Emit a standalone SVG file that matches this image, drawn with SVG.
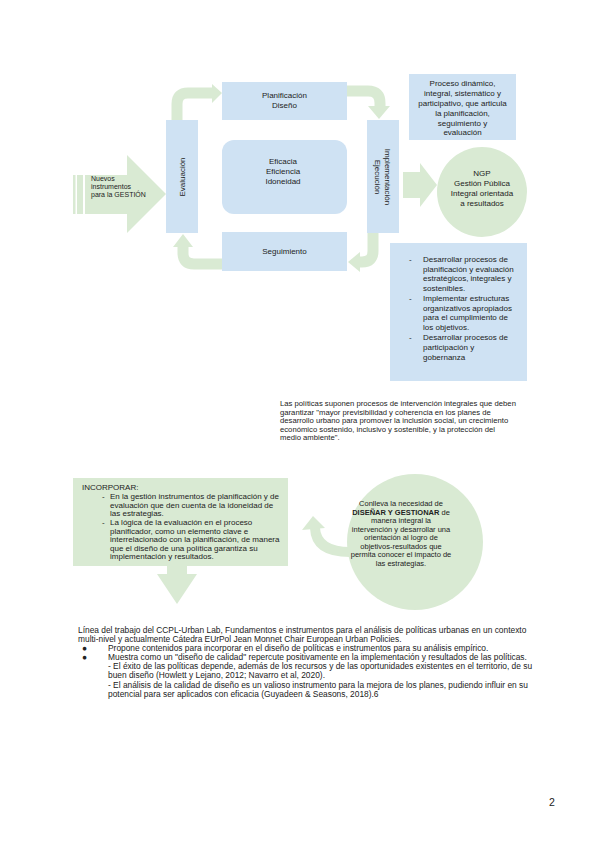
<svg xmlns="http://www.w3.org/2000/svg" width="600" height="848" viewBox="0 0 600 848">
<style>
text{font-family:"Liberation Sans",Arial,sans-serif;fill:#222;font-size:8px}
.c{text-anchor:middle}
.p{font-size:7.7px}
.q{font-size:8.4px}
.blue{fill:#cfe2f3}
.green{fill:#d9ead3}
.gs{stroke:#d9ead3;fill:none;stroke-width:11}
</style>
<rect width="600" height="848" fill="#fff"/>
<g id="connectors">
<path class="gs" d="M177,121 V104 Q177,93 188,93 H214"/>
<polygon class="green" points="212,84 222,93 212,103"/>
<path class="gs" d="M346,91 H368 Q380,91 380,103 V108"/>
<polygon class="green" points="368,106 390,106 379,119"/>
<path class="gs" d="M373,233 V251 Q373,262 362,262 H358"/>
<polygon class="green" points="360,252 348,262 360,272"/>
<path class="gs" d="M222,264 H194 Q183,264 183,253 V246"/>
<polygon class="green" points="173,247 193,247 183,234"/>
<path class="green" d="M403,172 H420 V163 L437,185 L420,207 V198 H403 Z"/>
</g>
<g id="nuevos">
<rect class="green" x="73" y="175" width="2.5" height="39"/>
<rect class="green" x="77" y="175" width="6" height="39"/>
<path class="green" d="M85,175 H127 V155 L166,194 L127,233 V214 H85 Z"/>
<text x="91" y="181" style="font-size:7px">Nuevos</text>
<text x="91" y="189" style="font-size:7px">instrumentos</text>
<text x="91" y="197" style="font-size:7px">para la GESTIÓN</text>
</g>
<g id="evaluacion">
<rect class="blue" x="166" y="120" width="32" height="113"/>
<text class="c" transform="translate(185,177) rotate(-90)">Evaluación</text>
</g>
<g id="planificacion">
<rect class="blue" x="222" y="82" width="125" height="38"/>
<text class="c" x="284.5" y="98">Planificación</text>
<text class="c" x="284.5" y="108">Diseño</text>
</g>
<g id="eficacia">
<rect class="blue" x="222" y="140" width="125" height="74" rx="12"/>
<text class="c" x="283" y="164">Eficacia</text>
<text class="c" x="283" y="174">Eficiencia</text>
<text class="c" x="283" y="184">Idoneidad</text>
</g>
<g id="seguimiento">
<rect class="blue" x="222" y="232" width="125" height="39"/>
<text class="c" x="284.5" y="254">Seguimiento</text>
</g>
<g id="implementacion">
<rect class="blue" x="367" y="120" width="32" height="113"/>
<text class="c" transform="translate(384.5,177) rotate(90)">Implementación</text>
<text class="c" transform="translate(374.5,177) rotate(90)">Ejecución</text>
</g>
<g id="proceso">
<rect class="blue" x="409" y="74" width="107" height="66"/>
<text class="c" x="462.5" y="86">Proceso dinámico,</text>
<text class="c" x="462.5" y="96">integral, sistemático y</text>
<text class="c" x="462.5" y="106">participativo, que articula</text>
<text class="c" x="462.5" y="116">la planificación,</text>
<text class="c" x="462.5" y="126">seguimiento y</text>
<text class="c" x="462.5" y="135">evaluación</text>
</g>
<g id="ngp">
<circle class="green" cx="482" cy="192" r="45"/>
<text class="c" x="482" y="176">NGP</text>
<text class="c" x="482" y="186">Gestión Pública</text>
<text class="c" x="482" y="196">Integral orientada</text>
<text class="c" x="482" y="206">a resultados</text>
</g>
<g id="desarrollar">
<rect class="blue" x="390" y="243" width="137" height="138"/>
<text x="409" y="262">-</text>
<text x="423" y="262">Desarrollar procesos de</text>
<text x="423" y="272">planificación y evaluación</text>
<text x="423" y="281">estratégicos, integrales y</text>
<text x="423" y="291">sostenibles.</text>
<text x="409" y="301">-</text>
<text x="423" y="301">Implementar estructuras</text>
<text x="423" y="311">organizativos apropiados</text>
<text x="423" y="320">para el cumplimiento de</text>
<text x="423" y="330">los objetivos.</text>
<text x="409" y="340">-</text>
<text x="423" y="340">Desarrollar procesos de</text>
<text x="423" y="350">participación y</text>
<text x="423" y="360">gobernanza</text>
</g>
<g id="politicas">
<text class="p" x="280" y="406">Las políticas suponen procesos de intervención integrales que deben</text>
<text class="p" x="280" y="414.5">garantizar "mayor previsibilidad y coherencia en los planes de</text>
<text class="p" x="280" y="423">desarrollo urbano para promover la inclusión social, un crecimiento</text>
<text class="p" x="280" y="431.5">económico sostenido, inclusivo y sostenible, y la protección del</text>
<text class="p" x="280" y="440">medio ambiente".</text>
</g>
<g id="incorporar">
<rect class="green" x="73" y="478" width="215" height="88"/>
<path class="green" d="M167,566 H187 V574 H197 L177,604 L157,574 H167 Z"/>
<text x="82" y="490">INCORPORAR:</text>
<text x="102" y="499">-</text>
<text x="110" y="499">En la gestión instrumentos de planificación y de</text>
<text x="110" y="507.5">evaluación que den cuenta de la idoneidad de</text>
<text x="110" y="516">las estrategias.</text>
<text x="102" y="525">-</text>
<text x="110" y="525">La lógica de la evaluación en el proceso</text>
<text x="110" y="533.5">planificador, como un elemento clave e</text>
<text x="110" y="542">interrelacionado con la planificación, de manera</text>
<text x="110" y="550.5">que el diseño de una política garantiza su</text>
<text x="110" y="559">implementación y resultados.</text>
</g>
<g id="conlleva">
<path class="gs" d="M350,552 Q316,552 315,528" style="stroke-width:10"/>
<polygon class="green" points="302,530 313,516 325,528"/>
<circle class="green" cx="415" cy="542" r="68"/>
<text class="c" x="401" y="506" style="font-size:7.5px">Conlleva la necesidad de</text>
<text class="c" x="401" y="514.5" style="font-size:7.5px"><tspan font-weight="bold">DISEÑAR Y GESTIONAR</tspan> de</text>
<text class="c" x="401" y="523" style="font-size:7.5px">manera integral la</text>
<text class="c" x="401" y="531.5" style="font-size:7.5px">intervención y desarrollar una</text>
<text class="c" x="401" y="540" style="font-size:7.5px">orientación al logro de</text>
<text class="c" x="401" y="548.5" style="font-size:7.5px">objetivos-resultados que</text>
<text class="c" x="401" y="557" style="font-size:7.5px">permita conocer el impacto de</text>
<text class="c" x="401" y="566" style="font-size:7.5px">las estrategias.</text>
</g>
<g id="linea">
<text class="q" x="78" y="633">Línea del trabajo del CCPL-Urban Lab, Fundamentos e instrumentos para el análisis de políticas urbanas en un contexto</text>
<text class="q" x="78" y="642">multi-nivel y actualmente Cátedra EUrPol Jean Monnet Chair European Urban Policies.</text>
<text class="q" x="82" y="651">●</text>
<text class="q" x="108" y="651">Propone contenidos para incorporar en el diseño de políticas e instrumentos para su análisis empírico.</text>
<text class="q" x="82" y="660">●</text>
<text class="q" x="108" y="660">Muestra como un "diseño de calidad" repercute positivamente en la implementación y resultados de las políticas.</text>
<text class="q" x="108" y="669">- El éxito de las políticas depende, además de los recursos y de las oportunidades existentes en el territorio, de su</text>
<text class="q" x="108" y="678">buen diseño (Howlett y Lejano, 2012; Navarro et al, 2020).</text>
<text class="q" x="108" y="688">- El análisis de la calidad de diseño es un valioso instrumento para la mejora de los planes, pudiendo influir en su</text>
<text class="q" x="108" y="697">potencial para ser aplicados con eficacia (Guyadeen &amp; Seasons, 2018).6</text>
</g>
<text x="549" y="806" style="font-size:10.5px">2</text>
</svg>
